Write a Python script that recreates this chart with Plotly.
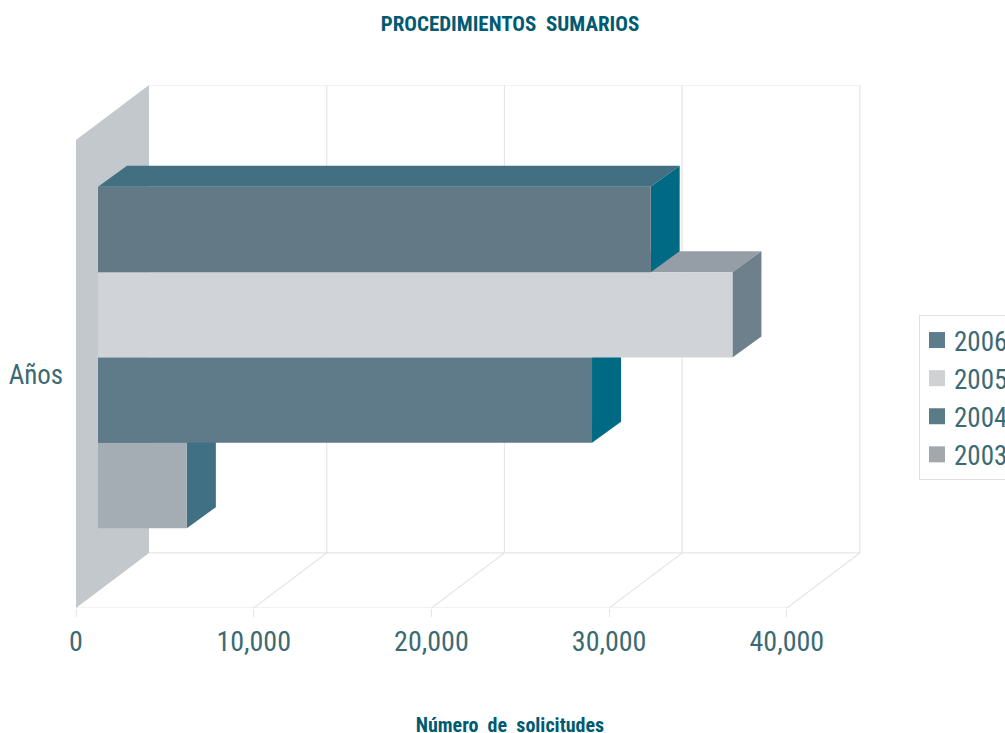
import plotly.graph_objects as go

years = ["2006", "2005", "2004", "2003"]
solicitudes = [31100, 35700, 27800, 5000]
tick_values = [0, 10000, 20000, 30000, 40000]
tick_labels = ["0", "10,000", "20,000", "30,000", "40,000"]
front_colors = ["#647986", "#d0d4d8", "#5f7a88", "#a4adb4"]
top_colors = ["#426f82", "#959ea6", "#426f82", "#426f82"]
side_colors = ["#006a85", "#6d808b", "#006a85", "#3f7083"]
legend_colors = ["#5d7c8c", "#cfd1d3", "#5a7c86", "#a3a8ad"]

NARROW = "Roboto"
TEAL = "#3c6a74"
GRID = "#e6e6e6"
W = 1060

X_RANGE = [0, 44230]
Y_RANGE = [-1.4356, 4.693]
WALL_DX, WALL_DY = 4108, 0.645
BAR_OFF = 1238
BAR_DX, BAR_DY = 1632, 0.246

fig = go.Figure()


def poly(xs, ys, color):
    fig.add_trace(go.Scatter(x=xs, y=ys, mode="lines", fill="toself", fillcolor=color,
                             line=dict(width=0, color=color), showlegend=False, hoverinfo="skip",
                             cliponaxis=False))


def seg(xs, ys):
    fig.add_trace(go.Scatter(x=xs, y=ys, mode="lines", line=dict(width=1.2, color=GRID),
                             showlegend=False, hoverinfo="skip", cliponaxis=False))


y_floor = Y_RANGE[0]
y_top = Y_RANGE[1]
xmax = tick_values[-1]

for t in tick_values[1:]:
    seg([t + WALL_DX, t + WALL_DX], [y_floor + WALL_DY, y_top])
    seg([t, t + WALL_DX], [y_floor, y_floor + WALL_DY])
seg([WALL_DX, xmax + WALL_DX], [y_top, y_top])
seg([WALL_DX, xmax + WALL_DX], [y_floor + WALL_DY, y_floor + WALL_DY])
seg([0, xmax], [y_floor, y_floor])

poly([0, 0, WALL_DX, WALL_DX, 0], [y_floor, y_top - WALL_DY, y_top, y_floor + WALL_DY, y_floor], "#c3c8cc")

n = len(years)
for i in range(n - 1, -1, -1):
    c = n - 1 - i
    lo, hi = c - 0.5, c + 0.5
    x0, x1 = BAR_OFF, BAR_OFF + solicitudes[i]
    poly([x0, x0 + BAR_DX, x1 + BAR_DX, x1, x0], [hi, hi + BAR_DY, hi + BAR_DY, hi, hi], top_colors[i])
    poly([x1, x1 + BAR_DX, x1 + BAR_DX, x1, x1], [lo, lo + BAR_DY, hi + BAR_DY, hi, lo], side_colors[i])
    poly([x0, x1, x1, x0, x0], [lo, lo, hi, hi, lo], front_colors[i])

for name, col in zip(years, legend_colors):
    fig.add_trace(go.Scatter(x=[None], y=[None], mode="markers", name=name, legendgroup=name,
                             marker=dict(symbol="square", size=16, color=col)))

fig.update_layout(
    width=W, height=733,
    margin=dict(l=76, r=W - 862, t=85, b=125),
    paper_bgcolor="white", plot_bgcolor="white",
    font=dict(family=NARROW, color=TEAL),
    title=dict(text="PROCEDIMIENTOS  SUMARIOS", x=510 / W, xanchor="center", y=1 - 24 / 733, yanchor="middle",
               font=dict(family=NARROW, size=21, color="#005a72", weight="bold")),
    xaxis=dict(range=X_RANGE, tickmode="array", tickvals=tick_values, ticktext=tick_labels,
               showgrid=False, zeroline=False, showline=False, ticks="outside", ticklen=8, tickcolor=GRID,
               tickfont=dict(size=28, color=TEAL, family=NARROW), automargin=False),
    yaxis=dict(range=Y_RANGE, visible=False, automargin=False),
    showlegend=True,
    legend=dict(x=(919 - 76) / (862 - 76), xanchor="left", y=(608 - 315) / (608 - 85), yanchor="top",
                bgcolor="white", bordercolor="#e0e0e0", borderwidth=1, traceorder="normal",
                font=dict(size=27, color=TEAL, family=NARROW), tracegroupgap=4.5,
                itemclick=False, itemdoubleclick=False),
    annotations=[
        dict(text="Años", xref="paper", yref="paper", x=-7 / 786, xanchor="right",
             y=(608 - 375) / 523, yanchor="middle", showarrow=False, font=dict(size=27, color=TEAL, family=NARROW)),
        dict(text="Número  de  solicitudes", xref="paper", yref="paper", x=(510 - 76) / 786, xanchor="center",
             y=(608 - 725) / 523, yanchor="middle", showarrow=False,
             font=dict(size=20, color="#005a72", family=NARROW, weight="bold")),
    ],
)

css = ("var s=document.createElement('style');"
       "s.textContent='svg text{font-stretch:75% !important;} .legendtext{transform:translateX(-6px);}"
       " .legendpoints{transform:translateX(-3px);}';"
       "document.head.appendChild(s);document.body.style.margin='0';document.body.style.overflow='hidden';"
       "document.documentElement.style.overflow='hidden';")
fig.write_html("out.html", post_script=css, config={"displayModeBar": False})
